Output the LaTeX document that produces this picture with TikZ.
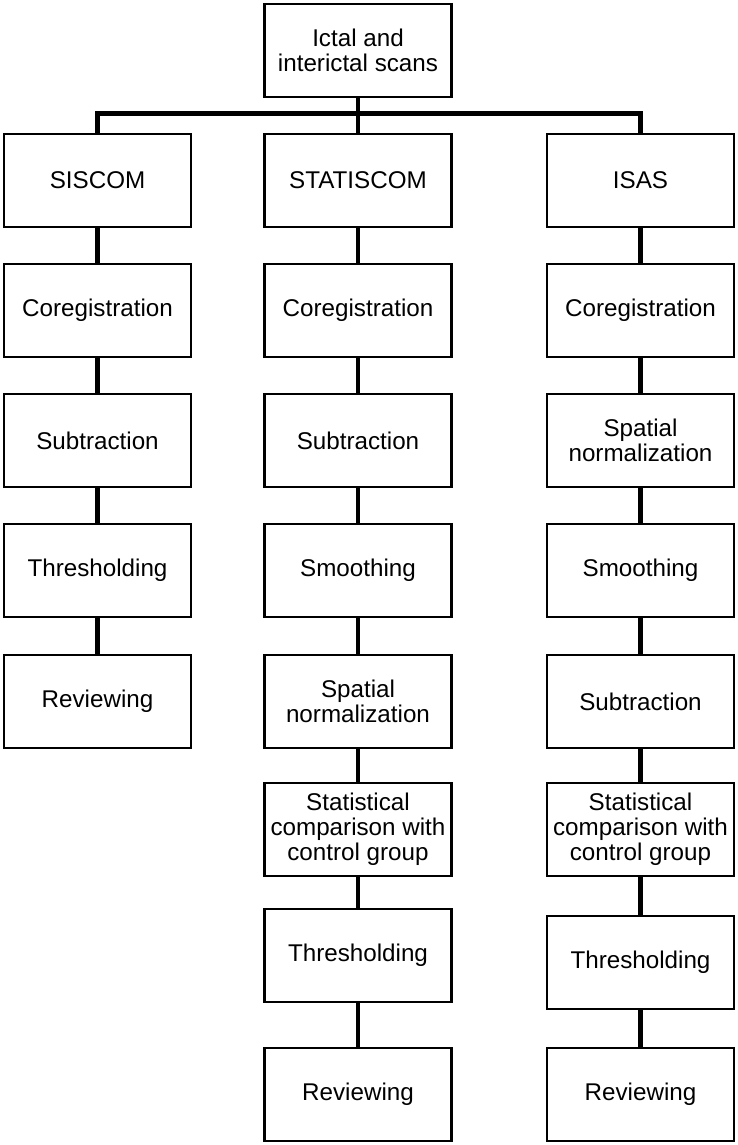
\documentclass[tikz,border=0pt]{standalone}
\usepackage{fontspec}
\setmainfont{Liberation Sans}
\begin{document}
\begin{tikzpicture}[x=1pt,y=-1pt,
  box/.style={draw=black, line width=2.3pt, rectangle, minimum width=187pt, minimum height=93pt, inner sep=2pt, align=center, font=\fontsize{24.2}{25}\selectfont, fill=white},
  conn/.style={draw=black, line width=4.3pt},
  barline/.style={draw=black, line width=4.8pt}]
\useasboundingbox (0,0) rectangle (738,1145);
\fill[white] (0,0) rectangle (738,1145);
% top
\node[box] (top) at (358,50.5) {Ictal and\\interictal scans};
\coordinate (bar) at (358,113.5);
% column 1
\node[box] (a1) at (97.5,180.5) {SISCOM};
\node[box] (a2) at (97.5,310.5) {Coregistration};
\node[box] (a3) at (97.5,440.5) {Subtraction};
\node[box] (a4) at (97.5,570.5) {Thresholding};
\node[box] (a5) at (97.5,701.5) {Reviewing};
% column 2
\node[box] (b1) at (358,180.5) {STATISCOM};
\node[box] (b2) at (358,310.5) {Coregistration};
\node[box] (b3) at (358,440.5) {Subtraction};
\node[box] (b4) at (358,570.5) {Smoothing};
\node[box] (b5) at (358,701.5) {Spatial\\normalization};
\node[box] (b6) at (358,829.5) {Statistical\\comparison with\\control group};
\node[box] (b7) at (358,955.5) {Thresholding};
\node[box] (b8) at (358,1094.5) {Reviewing};
% column 3
\node[box] (c1) at (640.5,180.5) {ISAS};
\node[box] (c2) at (640.5,310.5) {Coregistration};
\node[box] (c3) at (640.5,440.5) {Spatial\\normalization};
\node[box] (c4) at (640.5,570.5) {Smoothing};
\node[box] (c5) at (640.5,701.5) {Subtraction};
\node[box] (c6) at (640.5,829.5) {Statistical\\comparison with\\control group};
\node[box] (c7) at (640.5,962.5) {Thresholding};
\node[box] (c8) at (640.5,1094.5) {Reviewing};
% connectors
\draw[conn] (top.south) -- (bar);
\draw[barline, line join=miter] (a1.north) -- (a1.north |- bar) -- (c1.north |- bar) -- (c1.north);
\draw[conn] (bar) -- (b1.north);
\foreach \c in {a,b,c}{
  \draw[conn] (\c1.south) -- (\c2.north);
  \draw[conn] (\c2.south) -- (\c3.north);
  \draw[conn] (\c3.south) -- (\c4.north);
  \draw[conn] (\c4.south) -- (\c5.north);
}
\foreach \c in {b,c}{
  \draw[conn] (\c5.south) -- (\c6.north);
  \draw[conn] (\c6.south) -- (\c7.north);
  \draw[conn] (\c7.south) -- (\c8.north);
}
\end{tikzpicture}
\end{document}
